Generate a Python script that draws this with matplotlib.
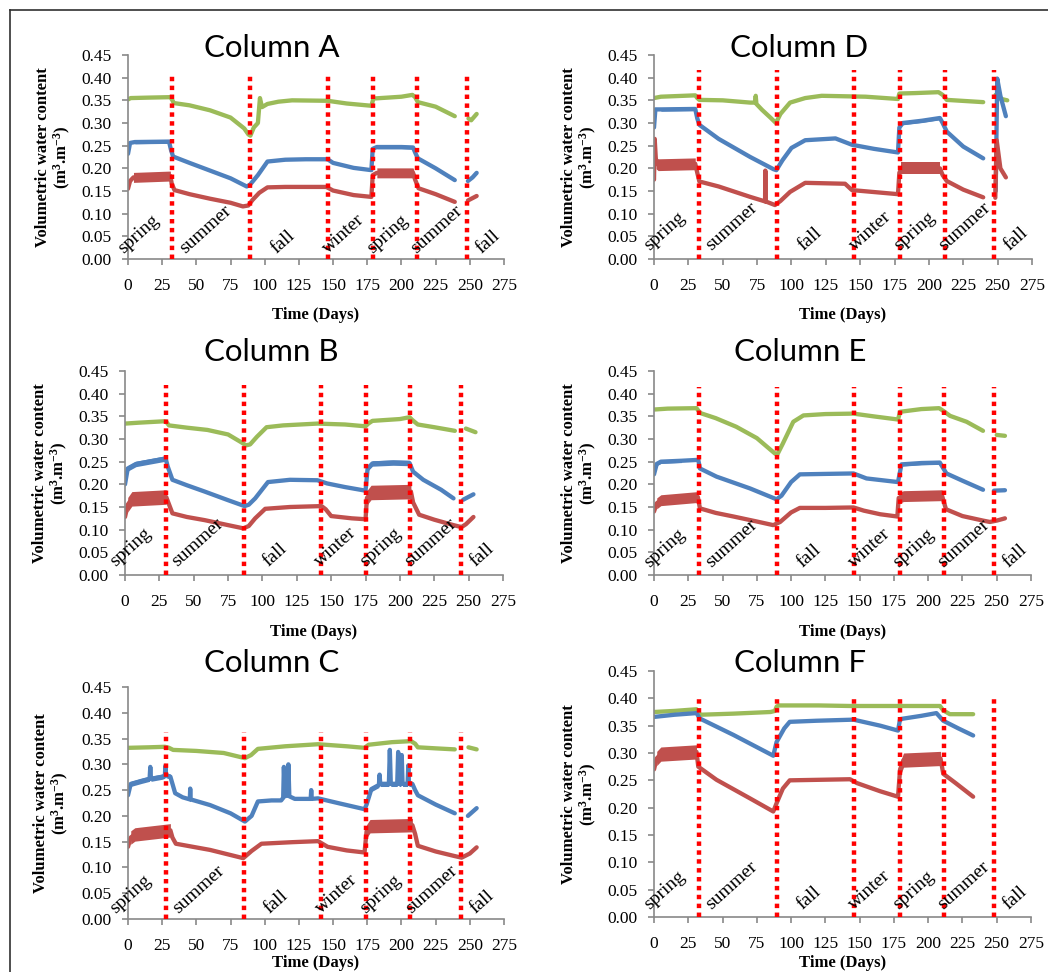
import numpy as np
import matplotlib
matplotlib.use('Agg')
import matplotlib.pyplot as plt
from matplotlib.lines import Line2D

nan = np.nan

# ---- soil moisture readings, three sensors per column (green / blue / red) ----
# Column A
a_green_day = [0, 2, 15, 31, 32.5, 33.5, 45, 60, 75, 85, 88, 89.5, 92, 95, 96.5, 98, 102, 110, 120, 146,
               160, 178, 179.5, 190, 200, 208, 210, 212, 225, 239, 244, 249, 251, 255]
a_green = [0.352, 0.355, 0.356, 0.357, 0.350, 0.344, 0.339, 0.328, 0.312, 0.288, 0.275, 0.272, 0.290, 0.300,
           0.355, 0.335, 0.342, 0.347, 0.350, 0.349, 0.343, 0.338, 0.354, 0.356, 0.358, 0.362, 0.357, 0.346,
           0.336, 0.315, nan, 0.310, 0.306, 0.320]
a_blue_day = [0, 1.5, 5, 30, 31.5, 33, 45, 60, 75, 86.8, 89, 95, 102, 115, 130, 146, 150, 165, 178, 179,
              182, 200, 208.5, 210, 212, 225, 239, 244, 248.6, 252, 255]
a_blue = [0.232, 0.256, 0.258, 0.259, 0.240, 0.226, 0.212, 0.195, 0.178, 0.160, 0.163, 0.185, 0.215, 0.219,
          0.220, 0.220, 0.212, 0.201, 0.196, 0.243, 0.247, 0.247, 0.246, 0.235, 0.222, 0.200, 0.174, nan,
          0.172, 0.180, 0.190]
a_red_day = [0, 1.5, 4, 31, 32, 34, 45, 60, 75, 84, 88, 91, 96, 102, 115, 145, 150, 165, 178, 179,
             182, 208.5, 210, 212.5, 225, 239, 244, 248.6, 255]
a_red = [0.155, 0.172, 0.180, 0.183, 0.166, 0.152, 0.143, 0.133, 0.124, 0.116, 0.118, 0.130, 0.146, 0.158,
         0.159, 0.159, 0.151, 0.141, 0.137, 0.185, 0.190, 0.190, 0.175, 0.156, 0.143, 0.126, nan, 0.129, 0.139]

# Column B
b_green_day = [0, 10, 28, 30, 32, 45, 60, 75, 85, 88, 91, 96, 103, 115, 140, 160, 175, 177, 180, 200,
               207, 209, 213, 225, 240, 244, 248, 255]
b_green = [0.334, 0.336, 0.339, 0.338, 0.330, 0.325, 0.320, 0.310, 0.292, 0.286, 0.288, 0.305, 0.326, 0.330,
           0.334, 0.332, 0.328, 0.334, 0.340, 0.344, 0.348, 0.342, 0.332, 0.326, 0.318, nan, 0.323, 0.315]
b_blue_day = [0, 2, 8, 29.6, 31, 34.5, 45, 58, 75, 87, 90, 94.7, 104, 120, 140, 147, 160, 175, 176.5, 180,
              195, 207, 209.6, 217, 230, 239, 243, 246, 253.5]
b_blue = [0.200, 0.235, 0.245, 0.257, 0.240, 0.210, 0.198, 0.184, 0.165, 0.152, 0.155, 0.169, 0.205, 0.210,
          0.209, 0.202, 0.194, 0.186, 0.235, 0.246, 0.248, 0.247, 0.228, 0.210, 0.188, 0.169, nan, 0.166, 0.178]
b_red_day = [0, 2, 5, 30, 31.5, 34.5, 45, 58, 75, 86, 90, 94.7, 102, 120, 143, 146, 150, 165, 175, 176,
             179, 208, 209.6, 214, 225, 239, 243, 245, 248, 253.5]
b_red = [0.128, 0.155, 0.168, 0.172, 0.160, 0.136, 0.128, 0.121, 0.110, 0.103, 0.108, 0.125, 0.146, 0.150,
         0.152, 0.145, 0.130, 0.125, 0.123, 0.170, 0.182, 0.184, 0.160, 0.133, 0.122, 0.110, 0.107, 0.106,
         0.112, 0.128]

# Column C
c_green_day = [0, 15, 27, 30, 33, 50, 70, 85.5, 90, 95, 115, 139, 160, 173, 176, 193, 207, 210, 212, 225,
               239, 244, 249, 255]
c_green = [0.332, 0.333, 0.334, 0.332, 0.328, 0.326, 0.322, 0.312, 0.318, 0.330, 0.335, 0.339, 0.335, 0.332,
           0.338, 0.343, 0.345, 0.340, 0.333, 0.331, 0.329, nan, 0.333, 0.329]
c_blue_day = [0, 2, 10, 15.8, 16.3, 16.8, 25, 27, 27.3, 27.8, 31, 34.5, 40, 45.2, 45.5, 45.8, 60, 75, 85.5,
              90.4, 95, 105, 112, 113.5, 114, 114.8, 116.7, 117.3, 118, 122, 133.6, 134, 134.4, 139, 155,
              173, 174.5, 178, 183.5, 184, 184.5, 190.8, 191.5, 192.2, 196.9, 197.6, 198.3, 199.6, 200.2,
              200.8, 204.5, 205, 205.5, 208, 210, 212, 225, 239, 244, 248.6, 255]
c_blue = [0.240, 0.262, 0.268, 0.272, 0.295, 0.272, 0.276, 0.278, 0.297, 0.279, 0.276, 0.244, 0.236, 0.232,
          0.253, 0.232, 0.221, 0.205, 0.189, 0.200, 0.228, 0.230, 0.230, 0.235, 0.295, 0.238, 0.240, 0.300,
          0.238, 0.233, 0.233, 0.250, 0.233, 0.234, 0.224, 0.213, 0.222, 0.252, 0.260, 0.280, 0.262, 0.262,
          0.328, 0.262, 0.262, 0.324, 0.262, 0.262, 0.318, 0.262, 0.262, 0.298, 0.262, 0.262, 0.250, 0.240,
          0.222, 0.205, nan, 0.200, 0.215]
c_red_day = [0, 2, 5, 31, 32.5, 35, 60, 84.3, 90.4, 97.6, 120, 139, 146, 160, 173, 174.5, 177, 208, 210,
             212, 225, 239, 244, 250, 255]
c_red = [0.140, 0.158, 0.164, 0.172, 0.158, 0.146, 0.134, 0.118, 0.132, 0.146, 0.149, 0.151, 0.140, 0.133,
         0.129, 0.170, 0.180, 0.182, 0.165, 0.142, 0.131, 0.122, 0.119, 0.127, 0.139]

# Column D
d_green_day = [0, 5, 30, 31.5, 33, 50, 70, 73.5, 74, 74.5, 78.6, 85, 88.7, 92, 99, 110, 122, 154, 177.5,
               178.5, 190, 207, 210, 213, 239.5, 244, 248.5, 250, 257]
d_green = [0.355, 0.358, 0.361, 0.355, 0.351, 0.350, 0.345, 0.345, 0.360, 0.342, 0.329, 0.311, 0.300, 0.320,
           0.345, 0.355, 0.360, 0.358, 0.353, 0.365, 0.366, 0.368, 0.362, 0.351, 0.346, nan, 0.362, 0.355, 0.350]
d_blue_day = [0, 1, 5, 30, 31.5, 33, 47, 70, 87, 89, 93.5, 100, 110, 132, 144, 160, 177.5, 178.5, 181, 195,
              208, 210, 213, 225, 239.5, 244, 248.6, 249.7, 252, 256]
d_blue = [0.290, 0.330, 0.330, 0.331, 0.310, 0.296, 0.265, 0.225, 0.198, 0.196, 0.218, 0.245, 0.262, 0.266,
          0.252, 0.243, 0.235, 0.290, 0.300, 0.305, 0.311, 0.300, 0.281, 0.248, 0.222, nan, 0.150, 0.398,
          0.360, 0.315]
d_red_day = [0, 0.5, 1.5, 3, 30, 31.5, 33, 47, 70, 80.8, 81, 81.2, 88, 92, 99, 110, 139, 144, 177.5, 178.5,
             180, 208, 210, 213, 225, 239.5, 244, 248.3, 249.3, 252, 256]
d_red = [0.175, 0.265, 0.212, 0.208, 0.210, 0.190, 0.171, 0.160, 0.137, 0.127, 0.195, 0.127, 0.119, 0.128,
         0.148, 0.168, 0.166, 0.152, 0.143, 0.190, 0.200, 0.200, 0.185, 0.172, 0.153, 0.136, nan, 0.135,
         0.262, 0.200, 0.180]

# Column E
e_green_day = [0, 10, 31, 32.5, 34, 45, 60, 75, 88.2, 90, 94, 101.6, 109, 125, 145.5, 160, 178, 179.5, 195,
               208, 211, 216, 228, 240, 245, 250, 256]
e_green = [0.365, 0.367, 0.368, 0.362, 0.357, 0.346, 0.327, 0.302, 0.268, 0.266, 0.290, 0.338, 0.352, 0.355,
           0.356, 0.350, 0.343, 0.360, 0.366, 0.368, 0.362, 0.351, 0.338, 0.318, nan, 0.309, 0.307]
e_blue_day = [0, 2, 5, 20, 32.3, 33.5, 45.6, 70, 89.4, 93, 100, 106.4, 125, 145.5, 155, 178, 180.5, 195,
              208.5, 213.3, 225, 240, 244, 248, 256]
e_blue = [0.222, 0.245, 0.250, 0.252, 0.254, 0.235, 0.217, 0.191, 0.167, 0.175, 0.205, 0.222, 0.223, 0.224,
          0.213, 0.205, 0.244, 0.247, 0.248, 0.224, 0.208, 0.188, nan, 0.186, 0.187]
e_red_day = [0, 2, 5, 32, 33.5, 45, 58, 75, 87, 92, 100, 106.4, 125, 145.5, 153, 165, 177.5, 178.5, 182,
             210, 213, 225, 240, 245, 250, 256]
e_red = [0.140, 0.158, 0.165, 0.172, 0.147, 0.137, 0.129, 0.118, 0.110, 0.117, 0.138, 0.148, 0.148, 0.149,
         0.142, 0.134, 0.129, 0.170, 0.174, 0.176, 0.145, 0.130, 0.120, 0.117, 0.120, 0.125]

# Column F
f_green_day = [0, 15, 31, 32.5, 34, 58, 85, 88.2, 89.5, 91, 120, 143, 180, 208.6, 211, 215.8, 232.8]
f_green = [0.375, 0.377, 0.380, 0.374, 0.370, 0.372, 0.375, 0.377, 0.385, 0.387, 0.387, 0.386, 0.386, 0.386,
           0.378, 0.371, 0.371]
f_blue_day = [0, 15, 31, 33.5, 58, 87, 89.4, 95, 99, 118.5, 145.5, 165, 178, 179.5, 195, 206, 211, 222, 232.8]
f_blue = [0.366, 0.370, 0.373, 0.363, 0.333, 0.295, 0.320, 0.345, 0.357, 0.359, 0.361, 0.350, 0.341, 0.362,
          0.368, 0.373, 0.359, 0.345, 0.332]
f_red_day = [0, 2, 5, 31, 32.3, 45.6, 70, 87, 89.4, 94, 99, 143, 148, 165, 178, 179.5, 182, 209, 211, 220,
             232.8]
f_red = [0.270, 0.290, 0.298, 0.302, 0.275, 0.251, 0.217, 0.193, 0.208, 0.235, 0.250, 0.252, 0.245, 0.230,
         0.220, 0.270, 0.287, 0.290, 0.262, 0.245, 0.220]

# days on which the season changes
a_seasons = [32.4, 89.2, 146, 179.4, 211.4, 248]
b_seasons = [29.6, 86.6, 142.6, 175, 207.3, 244.4]
c_seasons = [27.6, 84.8, 140.9, 173.8, 206.3, 243.5]
d_seasons = [32.7, 89.2, 145.5, 179, 211.5, 247.4]
e_seasons = [32.6, 89.5, 145.9, 179.4, 211.5, 248]
f_seasons = [32.6, 89.5, 145.9, 179.4, 211.5, 248]
season_names = ['spring', 'summer', 'fall', 'winter', 'spring', 'summer', 'fall']

# irrigated spring periods where the readings scatter, and how far (red, blue)
a_scatter = [(2, 31), (180, 210)]
b_scatter = [(2, 30), (176, 208)]
c_scatter = [(2, 31), (174.5, 208)]
d_scatter = [(1.5, 30), (180, 208)]
e_scatter = [(2, 32), (178.5, 210)]
f_scatter = [(2, 31), (179.5, 209)]
red_spread = {'A': 0.011, 'B': 0.016, 'C': 0.013, 'D': 0.013, 'E': 0.012, 'F': 0.013}
blue_spread = {'A': 0.004, 'B': 0.006, 'C': 0.005, 'D': 0.004, 'E': 0.004, 'F': 0.0}

# ---- layout (pixels) ----
W, H = 1048, 972
GREEN, BLUE, RED = '#9BBB59', '#4F81BD', '#C0504D'
SERIF = 'Liberation Serif'
AXIS_GREY = '#898989'

label_days_std = [-3.6, 41.5, 108.5, 146.2, 178.5, 211, 258.5]
panels = [
    # name, data, seasons, scatter, axes box (l, t, r, b), title (x, baseline), xlabel y, label base, dot top, label days
    ('A', (a_green_day, a_green, a_blue_day, a_blue, a_red_day, a_red), a_seasons, a_scatter,
     (128, 55, 504, 259), (272, 57), 315, 0.012, 0.41, label_days_std),
    ('D', (d_green_day, d_green, d_blue_day, d_blue, d_red_day, d_red), d_seasons, d_scatter,
     (654, 55, 1032, 259), (799, 57), 315, 0.018, 0.417, label_days_std),
    ('B', (b_green_day, b_green, b_blue_day, b_blue, b_red_day, b_red), b_seasons, b_scatter,
     (125, 371, 503, 575), (271, 361), 632, 0.017, 0.42, [-7.3, 37.6, 104.4, 142, 174.8, 207.5, 254.9]),
    ('E', (e_green_day, e_green, e_blue_day, e_blue, e_red_day, e_red), e_seasons, e_scatter,
     (654, 371, 1031, 575), (800, 361), 632, 0.015, 0.415, label_days_std),
    ('C', (c_green_day, c_green, c_blue_day, c_blue, c_red_day, c_red), c_seasons, c_scatter,
     (128, 687, 504, 919), (272, 672), 963, 0.010, 0.363, [-9.3, 37, 103.5, 141, 174, 206.8, 253.8]),
    ('F', (f_green_day, f_green, f_blue_day, f_blue, f_red_day, f_red), f_seasons, f_scatter,
     (654, 671, 1031, 917), (800, 672), 963, 0.012, 0.406, label_days_std),
]

plt.rcParams['mathtext.fontset'] = 'custom'
plt.rcParams['mathtext.rm'] = 'Liberation Serif:bold'
plt.rcParams['mathtext.it'] = 'Liberation Serif:bold'
plt.rcParams['mathtext.bf'] = 'Liberation Serif:bold'

fig = plt.figure(figsize=(W / 100, H / 100), dpi=100)


def fx(px):
    return px / W


def fy(py):
    return 1 - py / H


def draw_series(ax, days, vals, color, spread, windows):
    d = np.array(days, dtype=float)
    v = np.array(vals, dtype=float)
    if spread:
        for lo, hi in windows:
            m = (d >= lo) & (d <= hi)
            ax.fill_between(d[m], v[m] - spread, v[m] + spread, color=color, lw=0)
    ax.plot(d, v, color=color, lw=3.1, solid_joinstyle='round', solid_capstyle='round')


for name, data, seasons, scatter, box, title_pos, xlab_y, lab_base, dot_top, lab_days in panels:
    l, t, r, b = box
    ax = fig.add_axes([fx(l), fy(b), fx(r - l), (b - t) / H])
    gd, gv, bd, bv, rd, rv = data
    draw_series(ax, gd, gv, GREEN, 0, scatter)
    draw_series(ax, bd, bv, BLUE, blue_spread[name], scatter)
    draw_series(ax, rd, rv, RED, red_spread[name], scatter)

    for day in seasons:
        ax.plot([day, day], [0, dot_top], color='#FF0000', lw=3.2,
                linestyle=(0, (1, 1)), dash_capstyle='butt', zorder=5)

    for day, txt in zip(lab_days, season_names):
        ax.text(day, lab_base, txt, rotation=42, rotation_mode='anchor', ha='left', va='baseline',
                family=SERIF, fontsize=14, color='black', zorder=6)

    ax.set_xlim(0, 275)
    ax.set_ylim(0, 0.45)
    ax.set_xticks(np.arange(0, 276, 25))
    ax.set_yticks(np.arange(0, 0.451, 0.05))
    ax.set_yticklabels([f'{v:.2f}' for v in np.arange(0, 0.451, 0.05)])
    for s in ('top', 'right'):
        ax.spines[s].set_visible(False)
    for s in ('left', 'bottom'):
        ax.spines[s].set_color(AXIS_GREY)
        ax.spines[s].set_linewidth(1.2)
    ax.tick_params(axis='both', direction='out', length=4, width=1.2, color=AXIS_GREY)
    ax.tick_params(axis='y', pad=8)
    ax.tick_params(axis='x', pad=10)
    for lab in ax.get_xticklabels() + ax.get_yticklabels():
        lab.set_family(SERIF)
        lab.set_fontsize(12.5)
        lab.set_color('black')

    fig.text(fx(title_pos[0]), fy(title_pos[1]), f'Column {name}', ha='center', va='baseline',
             family='Lato', fontsize=22.5, color='black')
    fig.text(fx((l + r) / 2), fy(xlab_y), 'Time (Days)', ha='center', va='center',
             family=SERIF, fontsize=12, fontweight='bold')
    ylab_x = l - (76 if name == 'C' else 74)
    fig.text(fx(ylab_x), fy((t + b) / 2), 'Volumetric water content\n(m$^{3}$.m$^{-3}$)',
             rotation=90, ha='center', va='center', multialignment='center', linespacing=1.1,
             family=SERIF, fontsize=12, fontweight='bold')

# frame around the whole figure
fig.add_artist(Line2D([fx(10), fx(10)], [0, fy(10)], color='#303030', lw=1.2))
fig.add_artist(Line2D([fx(10), 1], [fy(10), fy(10)], color='#303030', lw=1.2))

fig.savefig('out.png', dpi=100)
